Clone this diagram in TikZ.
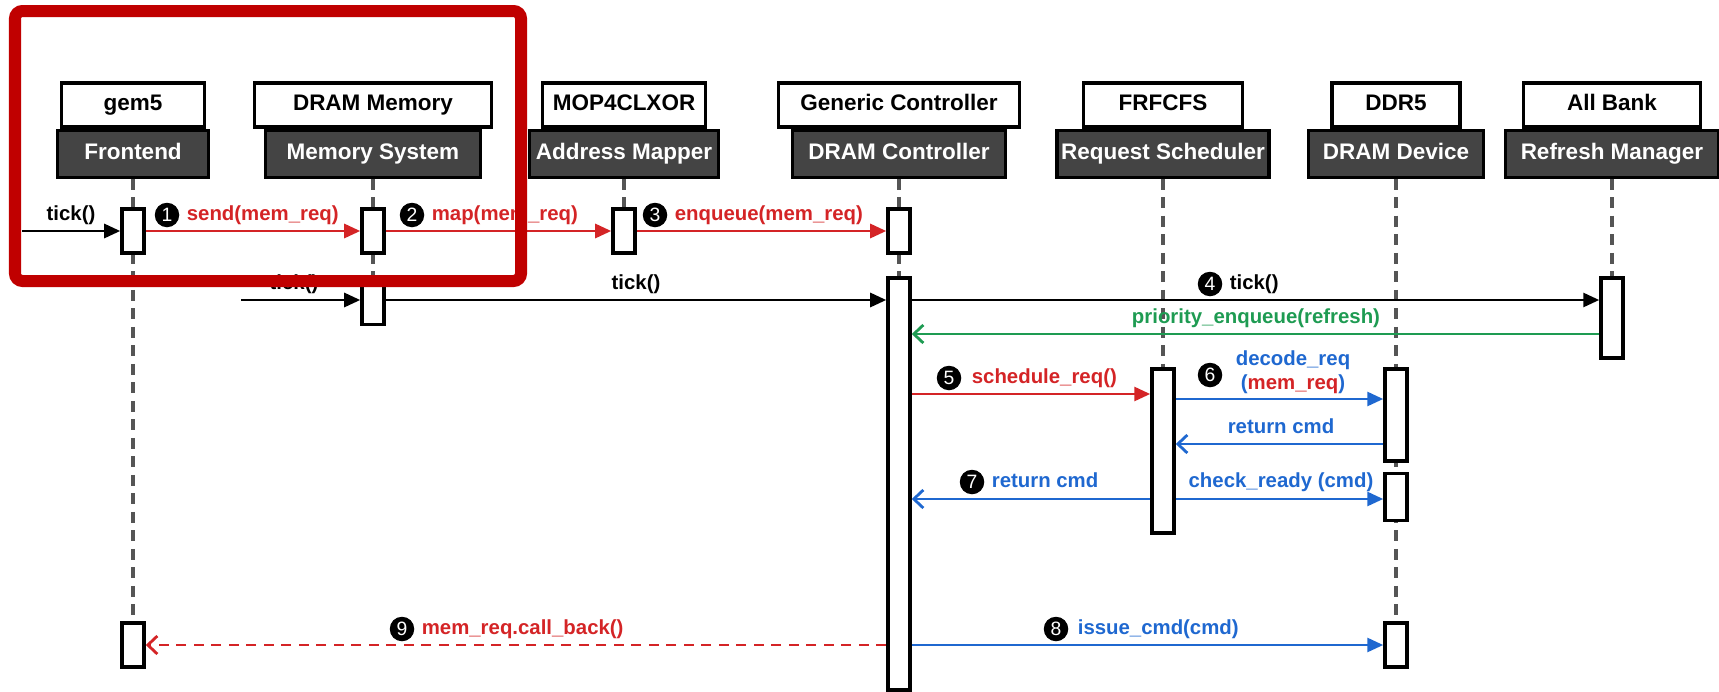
\documentclass[tikz,border=0pt]{standalone}
\usepackage{fontspec}
\setmainfont{Liberation Sans}
\usetikzlibrary{arrows.meta,positioning,backgrounds}
\definecolor{seqDark}{HTML}{444444}
\definecolor{seqLife}{HTML}{555555}
\definecolor{seqRed}{HTML}{D42426}
\definecolor{seqBlue}{HTML}{1F68D0}
\definecolor{seqGreen}{HTML}{1E9B52}
\definecolor{seqFrame}{HTML}{C00000}

\begin{document}
\begin{tikzpicture}[x=0.2mm, y=-0.2mm]
\tikzset{objname/.style={rectangle, draw=black, line width=1.8pt, fill=white, minimum height=8.8mm,
  inner sep=0pt, font=\fontsize{12.8}{14}\selectfont\bfseries, text height=3.2mm, text depth=0.9mm},
 objrole/.style={objname, fill=seqDark, text=white, minimum height=9.4mm},
 act/.style={rectangle, draw=black, line width=2pt, fill=white, minimum width=4.4mm, inner sep=0pt},
 life/.style={draw=seqLife, line width=2pt, dash pattern=on 2.2mm off 1.5mm},
 msg/.style={line width=1.6pt, -{Triangle[length=3.2mm,width=2.8mm]}},
 reply/.style={line width=1.6pt, -{Straight Barb[length=1.9mm,width=3.6mm]}},
 num/.style={circle, fill=black, text=white, inner sep=0pt, minimum size=4.9mm, font=\fontsize{11}{11}\selectfont},
 lbl/.style={inner sep=0.5pt, font=\fontsize{11.6}{13}\selectfont\bfseries, text height=2.9mm, text depth=0.9mm}}
\useasboundingbox (0,0) rectangle (1719,692);

\node[objname, minimum width=28.6mm] (gem) at (133,105) {gem5};
\node[objrole, minimum width=30.2mm, below=0pt of gem] (fe) {Frontend};
\node[objname, minimum width=47.4mm] (dram) at (373,105) {DRAM Memory};
\node[objrole, minimum width=43mm, below=0pt of dram] (ms) {Memory System};
\node[objname, minimum width=32.6mm] (mop) at (624,105) {MOP4CLXOR};
\node[objrole, minimum width=37.8mm, below=0pt of mop] (am) {Address Mapper};
\node[objname, minimum width=48.2mm] (gen) at (899,105) {Generic Controller};
\node[objrole, minimum width=42.6mm, below=0pt of gen] (ctl) {DRAM Controller};
\node[objname, minimum width=31.8mm] (frf) at (1163,105) {FRFCFS};
\node[objrole, minimum width=42.4mm, below=0pt of frf] (sch) {Request Scheduler};
\node[objname, minimum width=25.6mm] (ddr) at (1396,105) {DDR5};
\node[objrole, minimum width=35mm, below=0pt of ddr] (dev) {DRAM Device};
\node[objname, minimum width=35.4mm] (allb) at (1612,105) {All Bank};
\node[objrole, minimum width=42.6mm, below=0pt of allb] (rm) {Refresh Manager};

\node[act, minimum height=8.8mm] (fe1) at (133,231) {};
\node[act, minimum height=8.8mm] (ms1) at (373,231) {};
\node[act, minimum height=8.8mm] (am1) at (624,231) {};
\node[act, minimum height=8.8mm] (ctl1) at (899,231) {};
\node[act, minimum height=9mm] (ms2) at (373,302) {};
\node[act, minimum height=82.4mm] (ctl2) at (899,484) {};
\node[act, minimum height=16mm] (rm1) at (1612,318) {};
\node[act, minimum height=32.8mm] (sch1) at (1163,451) {};
\node[act, minimum height=18.4mm] (dev1) at (1396,415) {};
\node[act, minimum height=9.4mm] (dev2) at (1396,497) {};
\node[act, minimum height=8.8mm] (dev3) at (1396,645) {};
\node[act, minimum height=8.8mm] (fe2) at (133,645) {};

\begin{scope}[on background layer]
\draw[life] (fe.south) -- (fe2.north);
\draw[life] (ms.south) -- (ms2.south);
\draw[life] (am.south) -- (am1.north);
\draw[life] (ctl.south) -- (ctl2.north);
\draw[life] (sch.south) -- (sch1.north);
\draw[life] (dev.south) -- (dev3.north);
\draw[life] (rm.south) -- (rm1.north);
\end{scope}

\coordinate (clkA) at (22,231);
\coordinate (clkB) at (241,300);
\coordinate (rowPrio) at (0,334);
\coordinate (rowSched) at (0,394);
\coordinate (rowDec) at (0,399);
\coordinate (rowRet) at (0,444);
\coordinate (rowChk) at (0,499);
\coordinate (rowIss) at (0,645);

\draw[msg] (clkA) -- (fe1);
\draw[msg, seqRed] (fe1) -- (ms1);
\draw[msg, seqRed] (ms1) -- (am1);
\draw[msg, seqRed] (am1) -- (ctl1);
\draw[msg] (clkB) -- (ms2.west |- clkB);
\draw[msg] (ms2.east |- clkB) -- (ctl2.west |- clkB);
\draw[msg] (ctl2.east |- clkB) -- (rm1.west |- clkB);
\draw[reply, seqGreen] (rm1.west |- rowPrio) -- (ctl2.east |- rowPrio);
\draw[msg, seqRed] (ctl2.east |- rowSched) -- (sch1.west |- rowSched);
\draw[msg, seqBlue] (sch1.east |- rowDec) -- (dev1.west |- rowDec);
\draw[reply, seqBlue] (dev1.west |- rowRet) -- (sch1.east |- rowRet);
\draw[reply, seqBlue] (sch1.west |- rowChk) -- (ctl2.east |- rowChk);
\draw[msg, seqBlue] (sch1.east |- rowChk) -- (dev2.west |- rowChk);
\draw[msg, seqBlue] (ctl2.east |- rowIss) -- (dev3);
\draw[reply, seqRed, dash pattern=on 2mm off 1.5mm] (ctl2.west |- rowIss) -- (fe2);

\node[lbl] (tk1) at (71,215) {tick()};
\node[num] (n1) at (167,215) {1};
\node[lbl, seqRed, right=1.2mm of n1] (l1) {send(mem\_req)};
\node[num] (n2) at (412,215) {2};
\node[lbl, seqRed, right=1.2mm of n2] (l2) {map(mem\_req)};
\node[num] (n3) at (655,215) {3};
\node[lbl, seqRed, right=1.2mm of n3] (l3) {enqueue(mem\_req)};
\node[lbl] (tk2) at (294,284) {tick()};
\node[lbl] (tk3) at (636,284) {tick()};
\node[num] (n4) at (1210,284) {4};
\node[lbl, right=1.2mm of n4] (l4) {tick()};
\node[lbl, seqGreen] (prio) at (1256,318) {priority\_enqueue(refresh)};
\node[num] (n5) at (949,378) {5};
\node[lbl, seqRed, right=1.8mm of n5] (l5) {schedule\_req()};
\node[num] (n6) at (1210,375) {6};
\node[lbl, seqBlue] (dec1) at (1293,360) {decode\_req};
\node[lbl, seqBlue, below=0.6mm of dec1] (dec2) {(\textcolor{seqRed}{mem\_req})};
\node[lbl, seqBlue] (ret1) at (1281,428) {return cmd};
\node[num] (n7) at (972,482) {7};
\node[lbl, seqBlue, right=1.2mm of n7] (l7) {return cmd};
\node[lbl, seqBlue] (chk) at (1281,482) {check\_ready (cmd)};
\node[num] (n8) at (1056,629) {8};
\node[lbl, seqBlue, right=1.6mm of n8] (l8) {issue\_cmd(cmd)};
\node[num] (n9) at (402,629) {9};
\node[lbl, seqRed, right=1.2mm of n9] (l9) {mem\_req.call\_back()};

\draw[seqFrame, line width=2.4mm, rounded corners=1.5mm] (15,11) rectangle (521,281);
\end{tikzpicture}
\end{document}
